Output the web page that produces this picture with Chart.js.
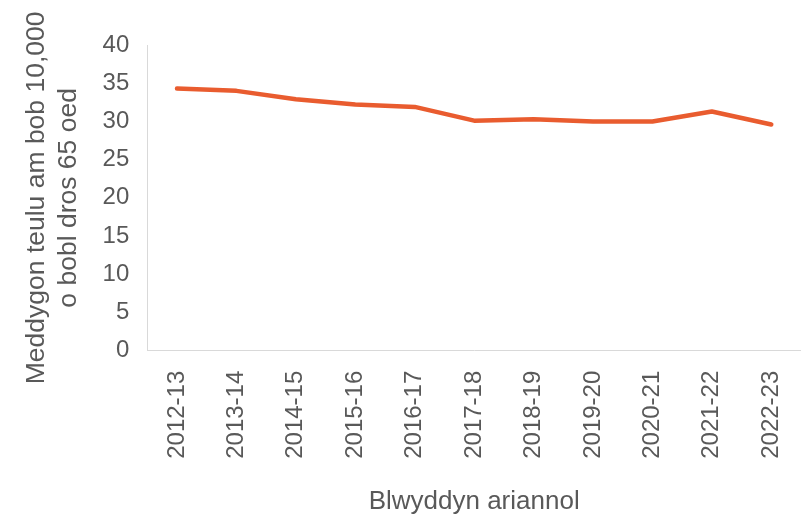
<!DOCTYPE html>
<html>
<head>
<meta charset="utf-8">
<script src="https://cdn.jsdelivr.net/npm/chart.js@4"></script>
<style>
  body { margin: 0; background: #fff; }
  #chartBox { width: 801px; height: 517px; }
</style>
</head>
<body>
<div id="chartBox"><canvas id="gpChart" width="801" height="517"></canvas></div>
<script>
const years = ['2012-13', '2013-14', '2014-15', '2015-16', '2016-17', '2017-18',
               '2018-19', '2019-20', '2020-21', '2021-22', '2022-23'];
const gpsPer10k = [34.3, 34.0, 32.9, 32.2, 31.9, 30.1, 30.3, 30.0, 30.0, 31.3, 29.6];
const yTitle = ['Meddygon teulu am bob 10,000', 'o bobl dros 65 oed'];
const xTitle = 'Blwyddyn ariannol';

const textColor = '#595959';
const axisColor = '#d9d9d9';
Chart.defaults.font.family = '"Liberation Sans", Arial, sans-serif';

const ctx = document.getElementById('gpChart').getContext('2d');
new Chart(ctx, {
    type: 'line',
    data: {
        labels: years,
        datasets: [{
            data: gpsPer10k,
            borderColor: '#E95C2F',
            borderWidth: 4.5,
            pointRadius: 0,
            tension: 0,
            borderCapStyle: 'round',
            borderJoinStyle: 'round'
        }]
    },
    options: {
        responsive: false,
        animation: false,
        layout: { padding: { left: 17, right: 0, top: 45, bottom: 0 } },
        plugins: {
            legend: { display: false },
            tooltip: { enabled: false }
        },
        scales: {
            x: {
                offset: true,
                grid: { display: false, drawTicks: false },
                border: { color: axisColor, width: 1 },
                ticks: {
                    color: textColor,
                    // small lineHeight keeps the rotated labels from adding right padding
                    font: { size: 24, lineHeight: 0.4 },
                    minRotation: 90,
                    maxRotation: 90,
                    padding: 20
                },
                title: {
                    display: true,
                    text: xTitle,
                    color: textColor,
                    font: { size: 26 },
                    padding: { top: 7, bottom: 0 }
                }
            },
            y: {
                min: 0,
                max: 40,
                grid: { display: false, drawTicks: false },
                border: { color: axisColor, width: 1 },
                ticks: {
                    stepSize: 5,
                    color: textColor,
                    font: { size: 24 },
                    padding: 18
                },
                title: {
                    display: true,
                    text: yTitle,
                    color: textColor,
                    font: { size: 26.5 },
                    lineHeight: 1.24,
                    padding: { bottom: 0 }
                }
            }
        }
    }
});
</script>
</body>
</html>
